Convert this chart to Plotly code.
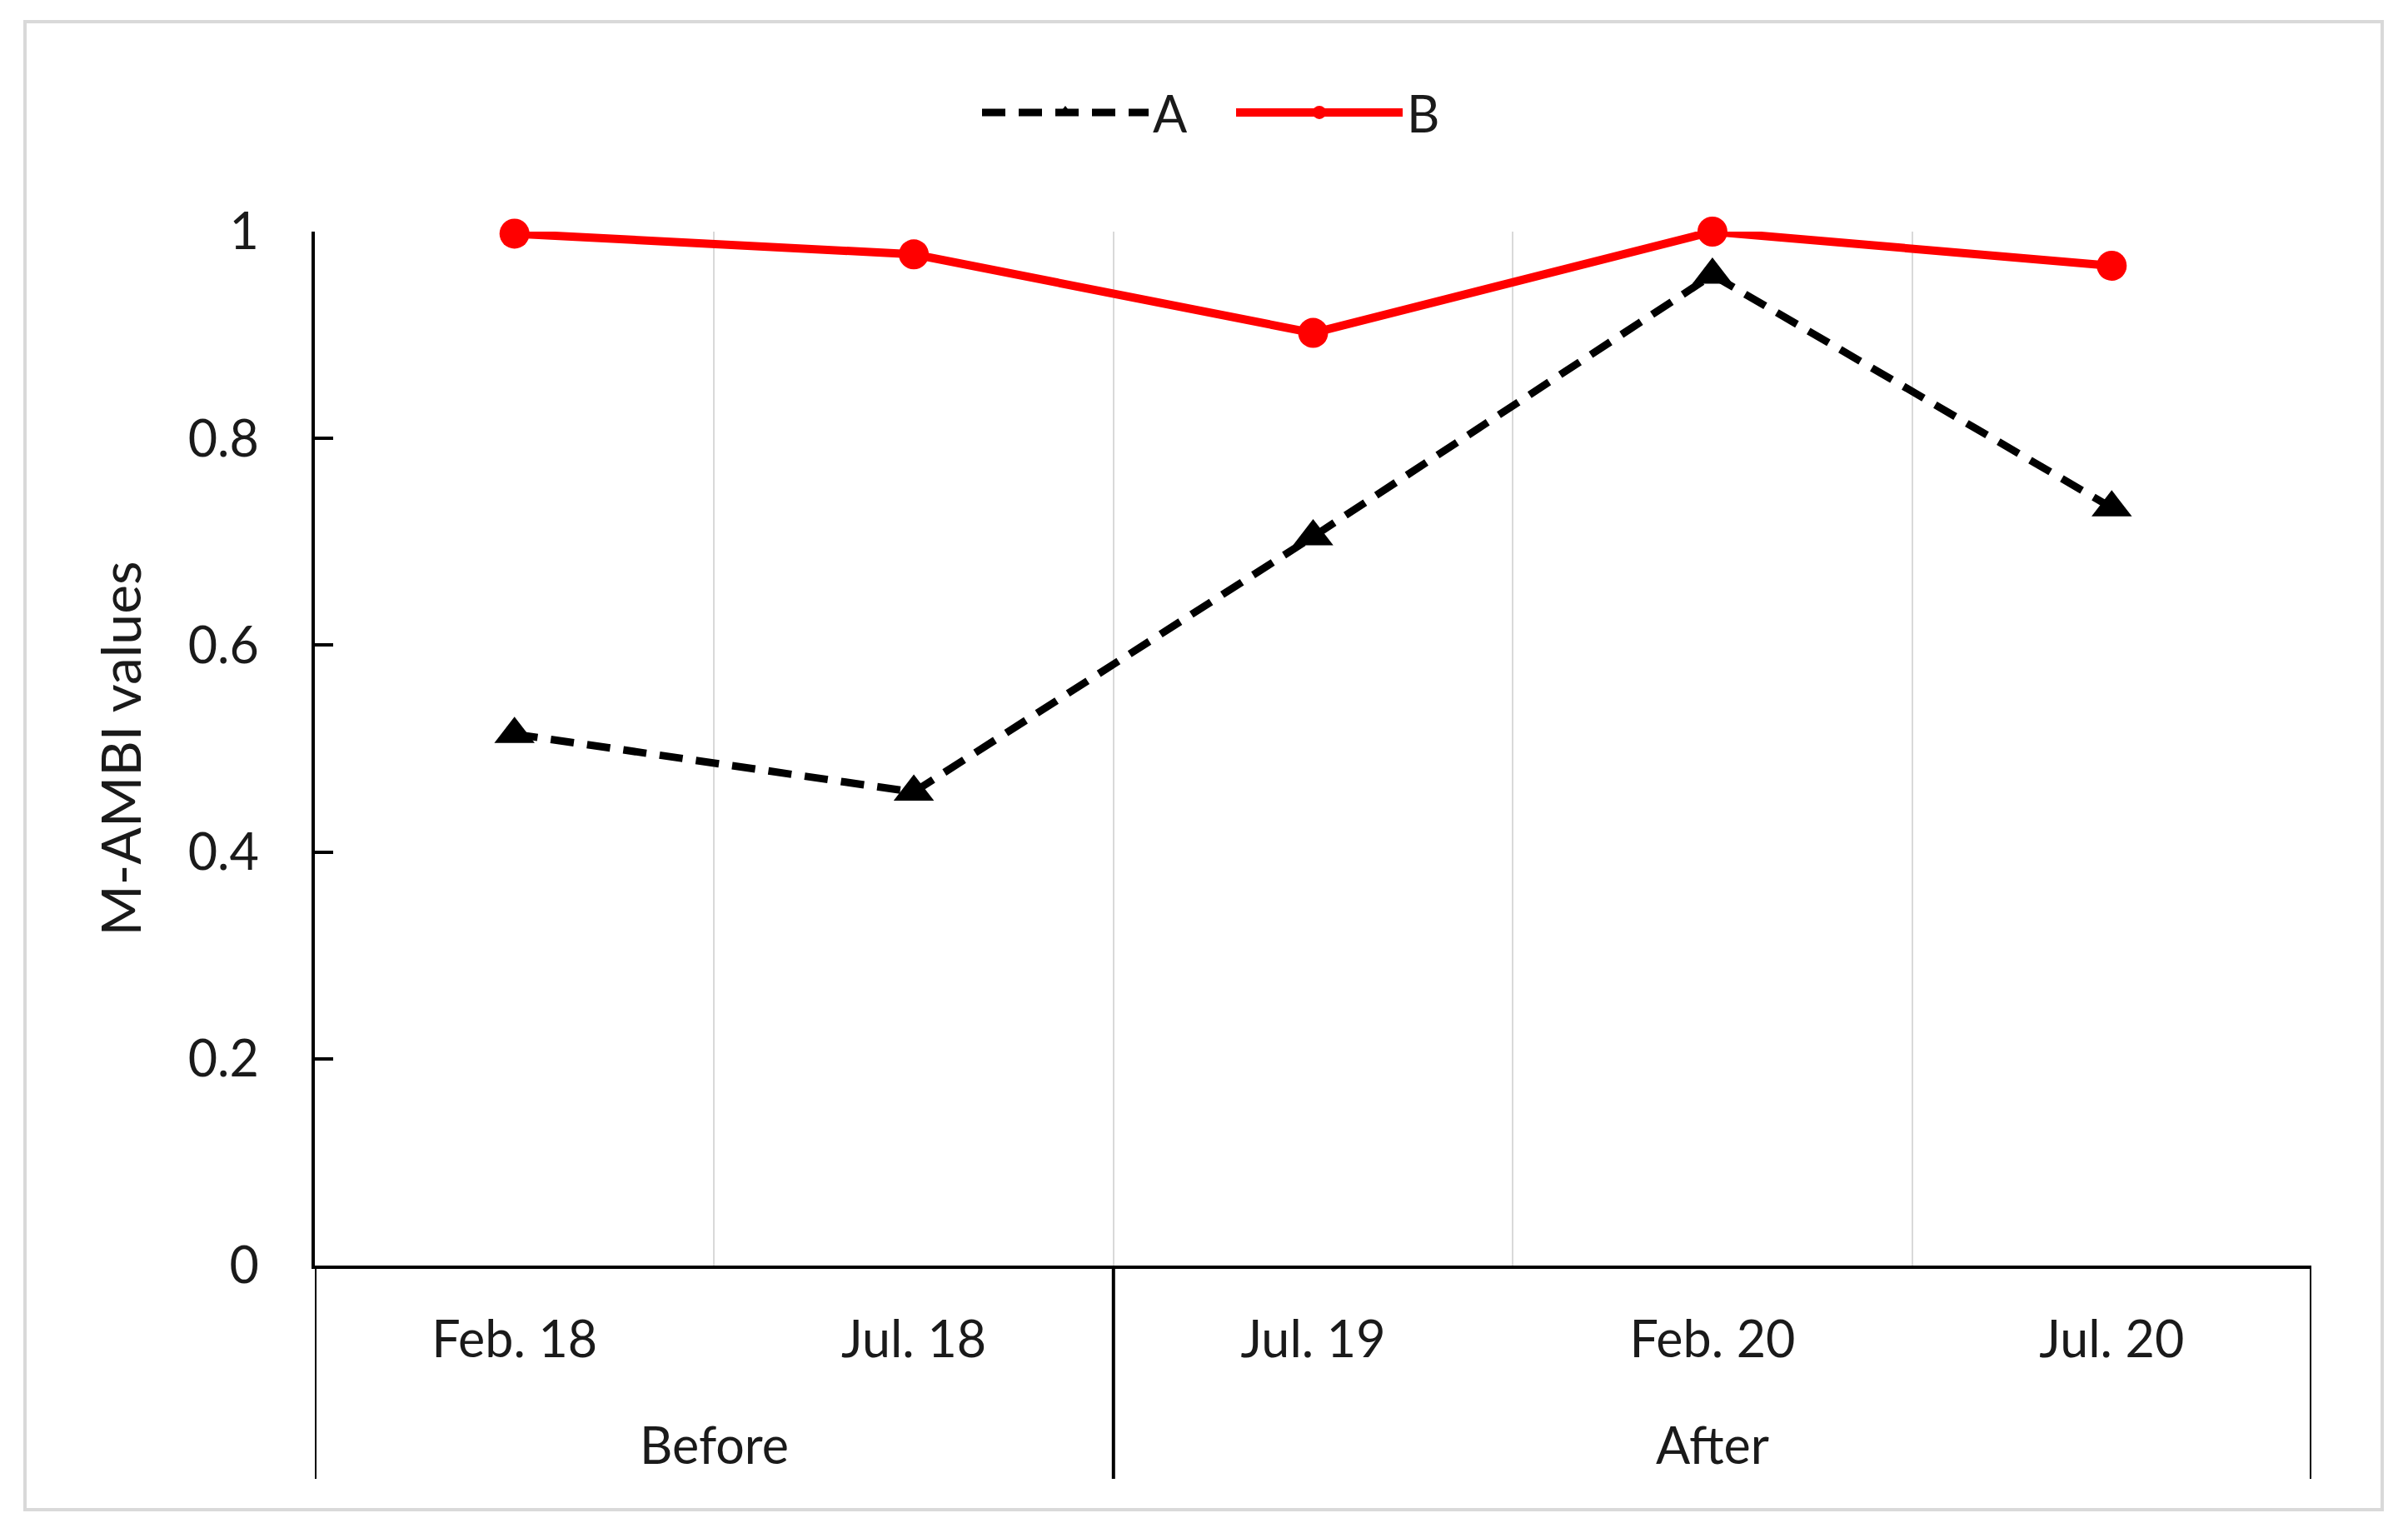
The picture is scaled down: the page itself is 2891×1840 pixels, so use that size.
import plotly.graph_objects as go

periods = ["Before", "Before", "After", "After", "After"]
dates = ["Feb. 18", "Jul. 18", "Jul. 19", "Feb. 20", "Jul. 20"]
series_a = [0.514, 0.458, 0.705, 0.958, 0.733]
series_b = [0.998, 0.978, 0.902, 1.000, 0.967]
y_ticks = [0, 0.2, 0.4, 0.6, 0.8, 1]
y_tick_labels = ["0", "0.2", "0.4", "0.6", "0.8", "1"]

FONT = "Lato"
FS = 61

fig = go.Figure()
fig.add_trace(go.Scatter(
    x=dates, y=series_a, name="A", mode="lines+markers",
    line=dict(color="black", width=9, dash="28px,16px"),
    marker=dict(symbol="triangle-up", size=42, color="black"),
    cliponaxis=False,
))
fig.add_trace(go.Scatter(
    x=dates, y=series_b, name="B", mode="lines+markers",
    line=dict(color="#ff0000", width=10),
    marker=dict(symbol="circle", size=36, color="#ff0000"),
    cliponaxis=False,
))

W, H = 2875, 1824
L, R, T, B = 370, 108, 270, 313
pw, ph = W - L - R, H - T - B

# group dividers and labels, derived from the period array
n = len(periods)
bounds = [-0.5]
for i in range(1, n):
    if periods[i] != periods[i - 1]:
        bounds.append(i - 0.5)
bounds.append(n - 0.5)
div_bottom = -(1775 - 1519) / ph
shapes = [dict(type="line", xref="x", yref="paper", x0=b, x1=b, y0=0, y1=div_bottom,
               line=dict(color="black", width=4)) for b in bounds]
shapes.append(dict(type="rect", xref="paper", yref="paper",
                   x0=(22 - L) / pw, x1=(2852 - L) / pw,
                   y0=(H - B - 1804) / ph, y1=(H - B - 18) / ph,
                   line=dict(color="#d9d9d9", width=4), layer="below"))

annotations = []
for k in range(len(bounds) - 1):
    lo, hi = bounds[k], bounds[k + 1]
    idx = [i for i in range(n) if lo < i < hi]
    annotations.append(dict(text=periods[idx[0]], xref="x", yref="paper",
                            x=sum(idx) / len(idx), y=-(1733 - 1519) / ph,
                            yanchor="middle", showarrow=False,
                            font=dict(size=FS, family=FONT, color="#1a1a1a")))

fig.update_layout(
    width=W, height=H,
    margin=dict(l=L, r=R, t=T, b=B),
    paper_bgcolor="white", plot_bgcolor="white",
    font=dict(family=FONT, size=FS, color="#1a1a1a"),
    showlegend=True,
    legend=dict(orientation="h", x=(1184 - 8 - L - 10) / pw, y=1.115,
                xanchor="left", yanchor="middle",
                font=dict(size=FS), itemwidth=200, traceorder="normal",
                entrywidth=90, entrywidthmode="pixels",
                bgcolor="rgba(0,0,0,0)"),
    xaxis=dict(
        type="category", range=[-0.5, n - 0.5],
        showline=True, linecolor="black", linewidth=4,
        showgrid=True, gridcolor="#d9d9d9", gridwidth=2,
        tickson="boundaries", ticks="",
        ticklabelstandoff=33,
        tickfont=dict(size=FS),
    ),
    yaxis=dict(
        range=[0, 1], tickvals=y_ticks, ticktext=y_tick_labels,
        showline=True, linecolor="black", linewidth=4,
        ticks="inside", ticklen=22, tickwidth=4, tickcolor="black",
        showgrid=False, zeroline=False,
        ticklabelstandoff=51,
        title=dict(text="M-AMBI values", font=dict(size=66), standoff=36),
    ),
    shapes=shapes,
    annotations=annotations,
)

fig.write_html("out.html")
